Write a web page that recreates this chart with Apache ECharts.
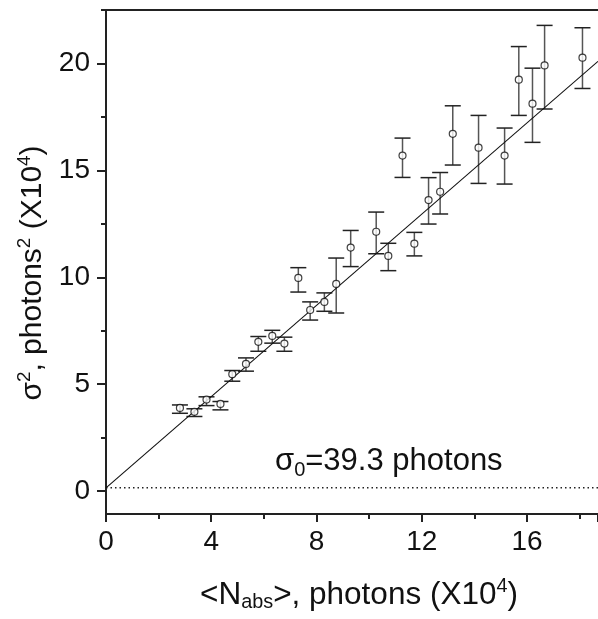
<!DOCTYPE html>
<html lang="en">
<head>
    <meta charset="UTF-8">
    <title>sigma2 vs Nabs</title>
    <script src="https://cdn.jsdelivr.net/npm/echarts@6/dist/echarts.min.js"></script>
    <style>
        html, body { margin: 0; padding: 0; background: #fff; }
        #chart { width: 598px; height: 619px; }
    </style>
</head>
<body>
<div id="chart"></div>
<script>
    // measured points, x10^4
    var nAbs   = [2.81, 3.36, 3.82, 4.35, 4.80, 5.32, 5.79, 6.32, 6.78, 7.31, 7.76, 8.30, 8.75,
                  9.30, 10.27, 10.73, 11.27, 11.72, 12.26, 12.70, 13.18, 14.16, 15.15, 15.69, 16.21, 16.67, 18.11];
    var sigma2 = [3.89, 3.71, 4.28, 4.08, 5.47, 5.95, 6.98, 7.26, 6.90, 9.97, 8.47, 8.85, 9.69,
                  11.39, 12.13, 11.00, 15.69, 11.57, 13.61, 14.00, 16.71, 16.06, 15.69, 19.24, 18.12, 19.91, 20.27];
    var errHi  = [4.03, 3.85, 4.41, 4.19, 5.64, 6.23, 7.23, 7.52, 7.20, 10.45, 8.85, 9.27, 10.90,
                  12.19, 13.05, 11.59, 16.51, 12.10, 14.66, 14.90, 18.02, 17.57, 16.98, 20.79, 19.78, 21.78, 21.67];
    var errLo  = [3.64, 3.49, 4.00, 3.80, 5.14, 5.61, 6.54, 6.92, 6.54, 9.31, 8.00, 8.41, 8.33,
                  10.50, 11.10, 10.31, 14.67, 11.00, 12.49, 12.96, 15.25, 14.39, 14.36, 17.57, 16.31, 17.87, 18.83];

    // linear fit and noise floor (sigma0 = 39.3 photons -> 0.154 x10^4)
    var fitX = [0, 18.7];
    var fitY = [0.154, 20.1];
    var sigma0sq = 0.154;

    var yMajor = [0, 5, 10, 15, 20];
    var yMinor = [2.5, 7.5, 12.5, 17.5, 22.5];

    var font = 'Liberation Sans';
    var myChart = echarts.init(document.getElementById('chart'));

    var pts = nAbs.map(function (x, i) { return [x, sigma2[i]]; });
    var bars = nAbs.map(function (x, i) { return [x, errLo[i], errHi[i]]; });

    function nameRich(size) {
        return {
            b: { fontSize: size, fontFamily: font, color: '#111' },
            sub: { fontSize: size * 0.63, fontFamily: font, color: '#111', padding: [16, 0, 0, 0] },
            sup: { fontSize: size * 0.63, fontFamily: font, color: '#111', padding: [0, 0, 16, 0] }
        };
    }

    var option = {
        animation: false,
        grid: { left: 106, right: 0, top: 10, bottom: 105, outerBoundsMode: 'none' },
        xAxis: [{
            type: 'value', min: 0, max: 18.7, interval: 4,
            name: '{b|<N}{sub|abs}{b|>, photons (X10}{sup|4}{b|)}',
            nameLocation: 'middle', nameGap: 63,
            nameTextStyle: { rich: nameRich(31.5), padding: [0, 0, 0, 14] },
            axisLine: { onZero: false, lineStyle: { color: '#222', width: 2 } },
            axisTick: { length: 8, lineStyle: { color: '#222', width: 2 } },
            minorTick: { show: true, splitNumber: 2, length: 5, lineStyle: { color: '#222', width: 2 } },
            axisLabel: { margin: 14, fontSize: 28, fontFamily: font, color: '#111',
                showMaxLabel: false },
            splitLine: { show: false }
        }, {
            type: 'value', min: 0, max: 18.7, position: 'top',
            axisLine: { show: true, onZero: false, lineStyle: { color: '#222', width: 2 } },
            axisTick: { show: false }, axisLabel: { show: false }, splitLine: { show: false }
        }],
        yAxis: [{
            type: 'value', min: -1.07, max: 22.5,
            name: '{b|σ}{sup|2}{b|, photons}{sup|2}{b| (X10}{sup|4}{b|)}',
            nameLocation: 'middle', nameGap: 54, nameRotate: 90,
            nameTextStyle: { rich: nameRich(30), padding: [0, 22, 0, 0] },
            axisLine: { onZero: false, lineStyle: { color: '#222', width: 2 } },
            axisTick: { length: 9, customValues: yMajor, lineStyle: { color: '#222', width: 2 } },
            axisLabel: { margin: 16, fontSize: 28, fontFamily: font, color: '#111', customValues: yMajor },
            splitLine: { show: false }
        }, {
            type: 'value', min: -1.07, max: 22.5, position: 'left',
            axisLine: { show: false, onZero: false },
            axisTick: { length: 5, customValues: yMinor, lineStyle: { color: '#222', width: 2 } },
            axisLabel: { show: false }, splitLine: { show: false }
        }],
        series: [{
            type: 'line', data: [[fitX[0], sigma0sq], [fitX[1], sigma0sq]],
            symbol: 'none', silent: true,
            lineStyle: { color: '#222', width: 1.5, type: [1.5, 3] }
        }, {
            type: 'line', data: fitX.map(function (x, i) { return [x, fitY[i]]; }),
            symbol: 'none', silent: true,
            lineStyle: { color: '#111', width: 1.1 }
        }, {
            type: 'custom', data: bars,
            renderItem: function (params, api) {
                var x = api.value(0);
                var lo = api.coord([x, api.value(1)]);
                var hi = api.coord([x, api.value(2)]);
                var w = 8;
                return {
                    type: 'group',
                    children: [{
                        type: 'line', shape: { x1: lo[0], y1: lo[1], x2: hi[0], y2: hi[1] },
                        style: { stroke: '#555', lineWidth: 1.5 }
                    }, {
                        type: 'line', shape: { x1: hi[0] - w, y1: hi[1], x2: hi[0] + w, y2: hi[1] },
                        style: { stroke: '#222', lineWidth: 1.5 }
                    }, {
                        type: 'line', shape: { x1: lo[0] - w, y1: lo[1], x2: lo[0] + w, y2: lo[1] },
                        style: { stroke: '#222', lineWidth: 1.5 }
                    }]
                };
            },
            z: 3
        }, {
            type: 'scatter', data: pts, symbol: 'circle', symbolSize: 7,
            itemStyle: { color: '#fff', borderColor: '#111', borderWidth: 1.2 },
            z: 5
        }],
        graphic: [{
            type: 'text', left: 275, top: 446,
            style: {
                text: '{b|σ}{sub|0}{b|=39.3 photons}',
                rich: {
                    b: { fontSize: 31, fontFamily: font, fill: '#111' },
                    sub: { fontSize: 20, fontFamily: font, fill: '#111', padding: [18, 0, 0, 0] }
                }
            }
        }]
    };
    myChart.setOption(option);
</script>
</body>
</html>
